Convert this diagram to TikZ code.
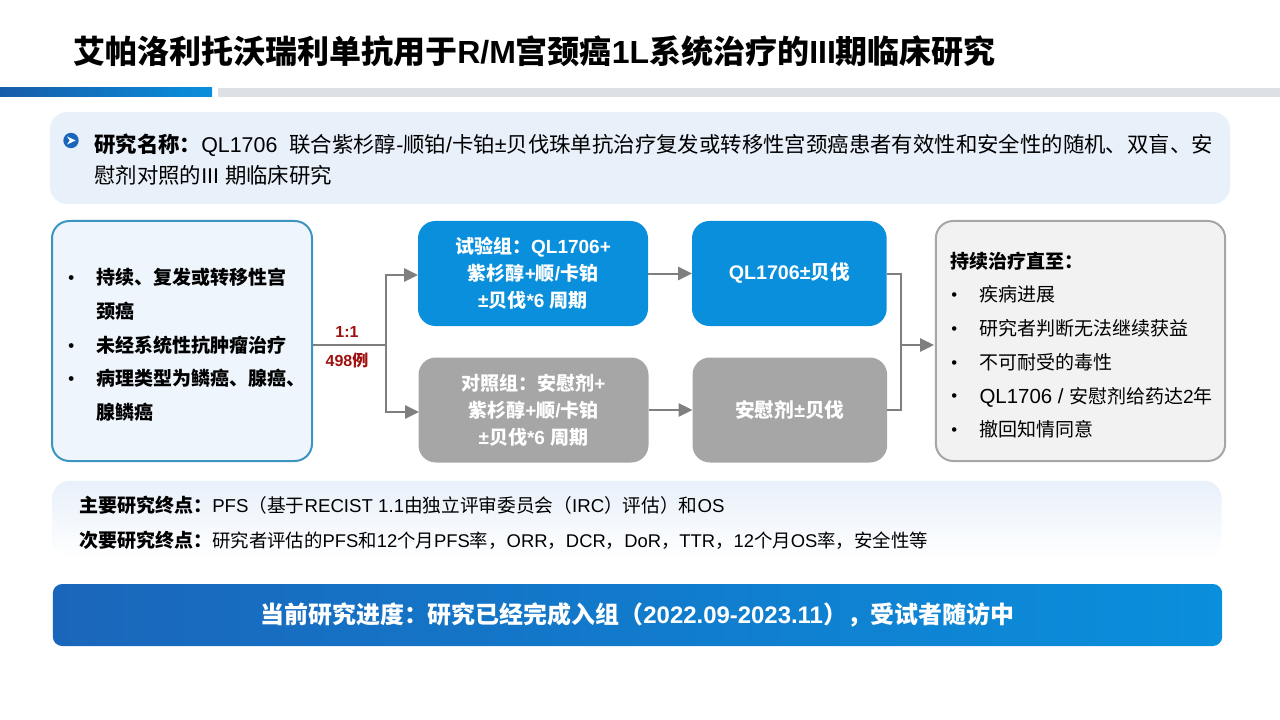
\documentclass[tikz,border=0pt]{standalone}
\usepackage{fontspec}
\usepackage{xcolor}
\usetikzlibrary{arrows.meta,positioning}
\setmainfont{Liberation Sans}
\newfontfamily\cjk{Noto Sans CJK SC}
% han text goes to the cjk family by itself
\XeTeXinterchartokenstate=1
\newXeTeXintercharclass\cjkclass
\newcount\cjkchar
\newcommand\markcjk[2]{\cjkchar=#1 \loop\XeTeXcharclass\cjkchar=\cjkclass \ifnum\cjkchar<#2 \advance\cjkchar by 1 \repeat}
\markcjk{"3000}{"303F}
\markcjk{"4E00}{"9FFF}
\markcjk{"FF00}{"FFEF}
\XeTeXinterchartoks 0 \cjkclass={\begingroup\cjk}
\XeTeXinterchartoks 4095 \cjkclass={\begingroup\cjk}
\XeTeXinterchartoks \cjkclass 0={\endgroup}
\XeTeXinterchartoks \cjkclass 4095={\endgroup}
\definecolor{trialblue}{HTML}{0A8FDC}
\definecolor{armgrey}{HTML}{A6A6A6}
\definecolor{linegrey}{HTML}{7F7F7F}
\definecolor{rulegrey}{HTML}{DDE1E6}
\definecolor{paleblue}{HTML}{E8F0FA}
\definecolor{patientblue}{HTML}{EEF5FD}
\definecolor{patientline}{HTML}{3A95C0}
\definecolor{deepblue}{HTML}{1A66BB}
\definecolor{ratiored}{HTML}{A01010}
\newcommand\bulletitem{\makebox[22pt][l]{\hspace{0.8pt}\raisebox{0.9pt}{\fontsize{12.5pt}{10pt}\selectfont\textbullet}}}
\tikzset{
	armbox/.style={rounded corners=13pt,inner sep=0pt,outer sep=0pt,text=white,align=center,
		minimum width=172.5pt,minimum height=78.75pt,font=\fontsize{14.25pt}{20.2pt}\selectfont\bfseries},
	drugbox/.style={armbox,minimum width=146pt,font=\fontsize{14.75pt}{20.2pt}\selectfont\bfseries},
	flow/.style={draw=linegrey,line width=1.5pt},
	flowarrow/.style={flow,-{Triangle[length=10.5pt,width=10pt]}},
	listtext/.style={anchor=north west,inner sep=0pt,align=left,font=\fontsize{14.25pt}{25.3pt}\selectfont},
	bodytext/.style={anchor=west,inner sep=0pt},
}
\begin{document}
\begin{tikzpicture}[x=0.75pt,y=-0.75pt]
	\useasboundingbox (0,0) rectangle (1280,720);
	% title and rule
	\node[anchor=west,inner sep=0pt,font=\fontsize{24pt}{28pt}\selectfont\bfseries] (title) at (73,51) {艾帕洛利托沃瑞利单抗用于R/M宫颈癌1L系统治疗的III期临床研究};
	\shade[left color=deepblue!90!black,right color=trialblue] (0,88) rectangle (212,97);
	\fill[rulegrey] (218,88) rectangle (1280,97);
	% study name
	\node[fill=paleblue,rounded corners=13pt,minimum width=885pt,minimum height=69pt,inner sep=0pt] (namebox) at (640,158) {};
	\node[circle,fill=deepblue,minimum size=11.5pt,inner sep=0pt] (namemark) at (71,140.5) {};
	\fill[white] ([xshift=-3pt,yshift=3pt]namemark.center) -- ([xshift=3.5pt]namemark.center) -- ([xshift=-3pt,yshift=-3pt]namemark.center) -- ([xshift=-1pt]namemark.center) -- cycle;
	\node[listtext,font=\fontsize{16.05pt}{23.25pt}\selectfont] (nametext) at (94,133.8) {\textbf{研究名称：}QL1706\ \ 联合紫杉醇-顺铂/卡铂±贝伐珠单抗治疗复发或转移性宫颈癌患者有效性和安全性的随机、双盲、安\\慰剂对照的III 期临床研究};
	% patients
	\node[draw=patientline,line width=1.5pt,fill=patientblue,rounded corners=13pt,minimum width=195pt,minimum height=180pt,inner sep=0pt] (patients) at (182,341) {};
	\node[listtext,font=\fontsize{14.25pt}{25.3pt}\selectfont\bfseries] (patienttext) at (67,268) {\bulletitem 持续、复发或转移性宫\\\hspace*{22pt}颈癌\\\bulletitem 未经系统性抗肿瘤治疗\\\bulletitem 病理类型为鳞癌、腺癌、\\\hspace*{22pt}腺鳞癌};
	% arms
	\node[armbox,fill=trialblue] (trial) at (533,273.5) {试验组：QL1706+\\紫杉醇+顺/卡铂\\±贝伐*6 周期};
	\node[drugbox,fill=trialblue] (trialdrug)[right=33pt of trial] {QL1706±贝伐};
	\node[armbox,fill=armgrey] (control) at (533.5,410) {对照组：安慰剂+\\紫杉醇+顺/卡铂\\±贝伐*6 周期};
	\node[drugbox,fill=armgrey] (controldrug)[right=33pt of control] {安慰剂±贝伐};
	% stop criteria
	\node[draw=armgrey,line width=1.5pt,fill=black!5,rounded corners=13pt,minimum width=217pt,minimum height=180pt,inner sep=0pt] (stop) at (1080.5,341) {};
	\node[listtext] (stoptext) at (950,251.5) {\textbf{持续治疗直至：}\\\bulletitem 疾病进展\\\bulletitem 研究者判断无法继续获益\\\bulletitem 不可耐受的毒性\\\bulletitem {\fontsize{15.3pt}{25.3pt}\selectfont QL1706 / }安慰剂给药达2年\\\bulletitem 撤回知情同意};
	% connectors
	\coordinate (split) at (386,345);
	\coordinate (trialin) at (418,275);
	\coordinate (controlin) at (419,412);
	\coordinate (join) at (901,345);
	\coordinate (stopin) at (934,345);
	\draw[flow] (patients.east |- split) -- (split);
	\draw[flowarrow] (split) |- (trialin);
	\draw[flowarrow] (split) |- (controlin);
	\draw[flowarrow] (trial) -- (trialdrug);
	\draw[flowarrow] (control) -- (controldrug);
	\draw[flow] (trialdrug.east) -| (join);
	\draw[flow] (controldrug.east) -| (join);
	\draw[flowarrow] (join) -- (stopin);
	\node[text=ratiored,inner sep=0pt,font=\fontsize{12pt}{13pt}\selectfont\bfseries] (ratio) at (347,332) {1:1};
	\node[text=ratiored,inner sep=0pt,font=\fontsize{12pt}{13pt}\selectfont\bfseries] (cases) at (347,360) {498例};
	% endpoints
	\node[top color=paleblue,bottom color=white,rounded corners=13pt,minimum width=877pt,minimum height=58pt,inner sep=0pt] (endbox) at (637,519.5) {};
	\node[bodytext,font=\fontsize{14pt}{23pt}\selectfont] (primary) at (79,505) {{\fontsize{14.25pt}{23pt}\selectfont\bfseries 主要研究终点：}PFS（基于RECIST 1.1由独立评审委员会（IRC）评估）和OS};
	\node[bodytext,font=\fontsize{13.8pt}{23pt}\selectfont] (secondary) at (79,540) {{\fontsize{14.25pt}{23pt}\selectfont\bfseries 次要研究终点：}研究者评估的PFS和12个月PFS率，ORR，DCR，DoR，TTR，12个月OS率，安全性等};
	% progress
	\node[left color=deepblue,right color=trialblue,rounded corners=7pt,minimum width=877pt,minimum height=46.5pt,inner sep=0pt,text=white,font=\fontsize{17.95pt}{20pt}\selectfont\bfseries] (progress) at (637.5,615) {当前研究进度：研究已经完成入组（2022.09-2023.11），受试者随访中};
\end{tikzpicture}
\end{document}
